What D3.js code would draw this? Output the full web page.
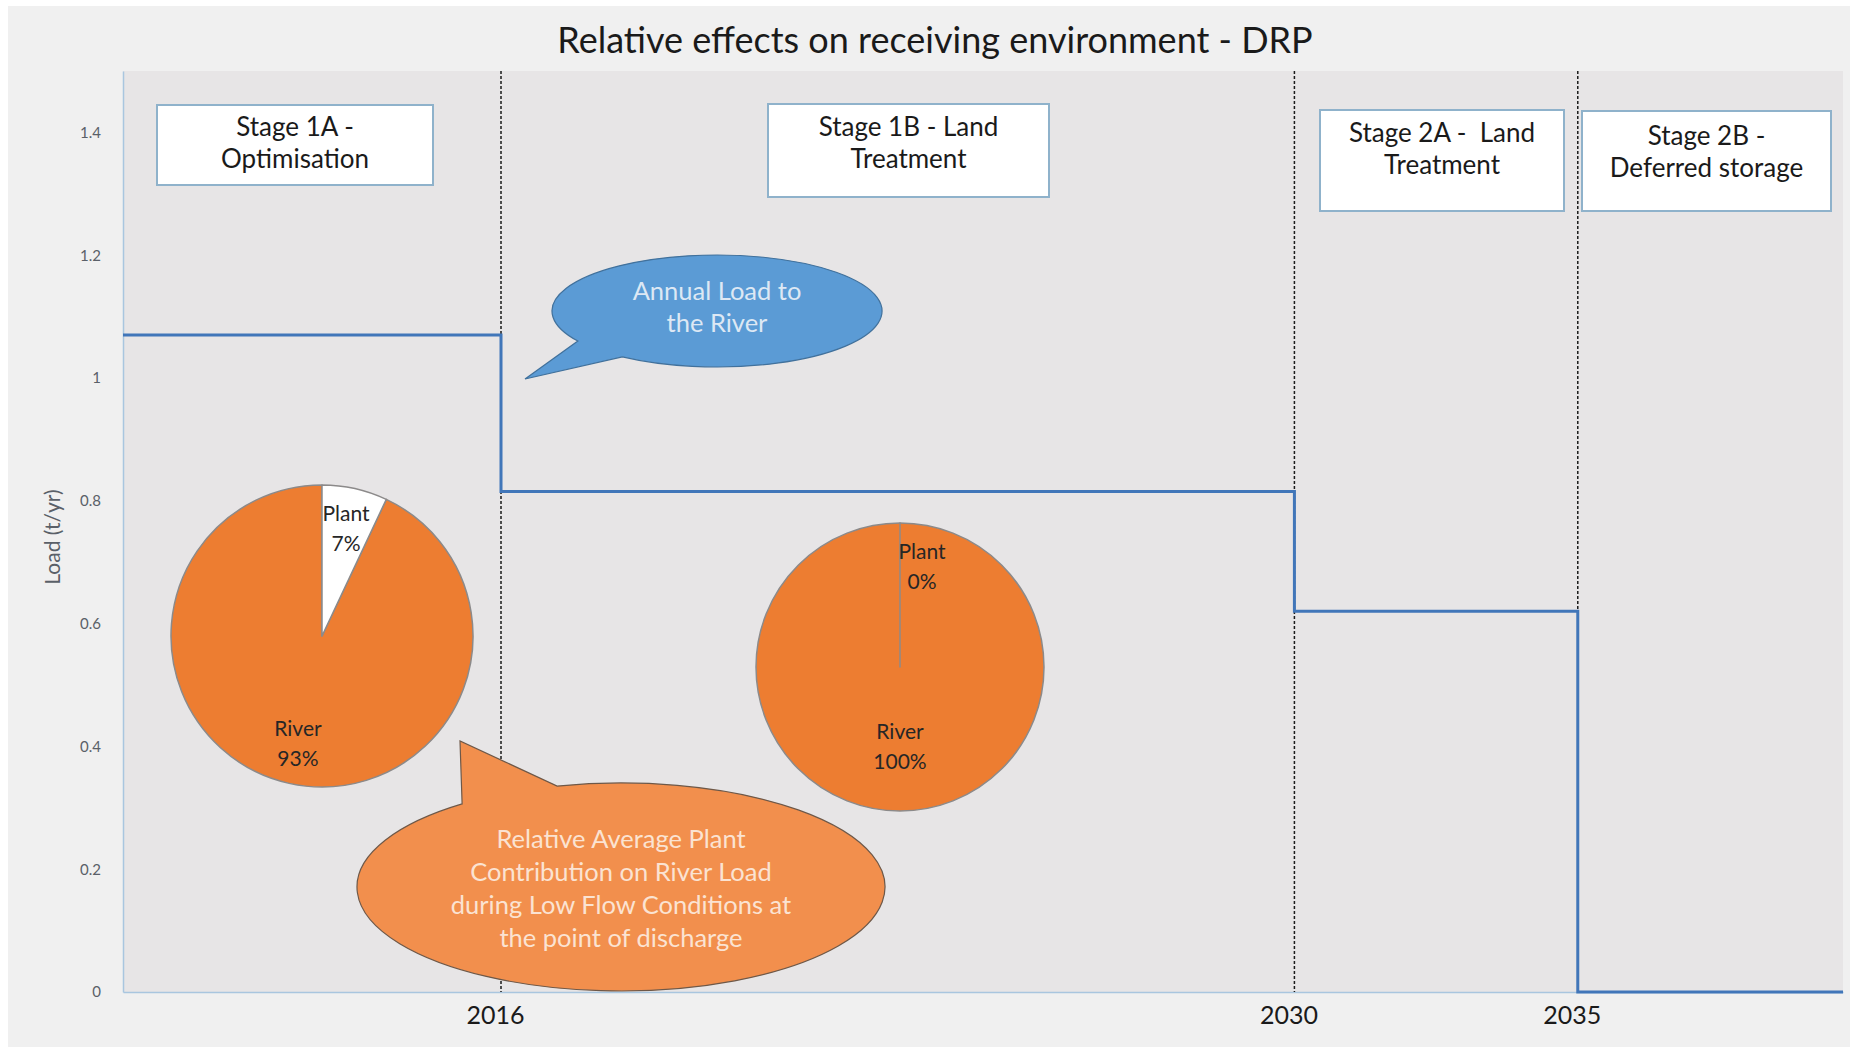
<!DOCTYPE html>
<html>
<head>
<meta charset="utf-8">
<script src="https://cdn.jsdelivr.net/npm/d3@7"></script>
<style>
  html, body { margin: 0; padding: 0; background: #ffffff; }
  svg { display: block; }
  text { font-family: Lato, "Open Sans", sans-serif; }
</style>
</head>
<body>
<svg id="chart" width="1850" height="1047"></svg>
<script>
// ---- data ----
const chartTitle = "Relative effects on receiving environment - DRP";
const yAxisTitle = "Load (t/yr)";
const yTicks = [0, 0.2, 0.4, 0.6, 0.8, 1, 1.2, 1.4];
const stageYears = [2016, 2030, 2035];
const stageTitles = [
  ["Stage 1A -", "Optimisation"],
  ["Stage 1B - Land", "Treatment"],
  ["Stage 2A -  Land", "Treatment"],
  ["Stage 2B -", "Deferred storage"]
];
// annual DRP load to the river, stepping down at each stage change
const loadYears = [2009.33, 2016, 2030, 2035, 2039.68];
const loadValues = [1.07, 0.815, 0.62, 0, 0];
// relative plant contribution during low flow
const sliceNames = ["Plant", "River"];
const shareStage1A = [7, 93];
const shareStage1B = [0, 100];
const bubbleLoadText = ["Annual Load to", "the River"];
const bubbleShareText = ["Relative Average Plant", "Contribution on River Load",
                         "during Low Flow Conditions at", "the point of discharge"];

// ---- layout ----
const W = 1850, H = 1047;
const plot = { left: 123, right: 1843, top: 71, bottom: 992 };
const svg = d3.select("#chart");

const x = d3.scaleLinear().domain([loadYears[0], loadYears[loadYears.length - 1]])
  .range([plot.left, plot.right]);
const y = d3.scaleLinear().domain([0, 1.5]).range([plot.bottom, plot.top]);

// background panels
svg.append("rect").attr("x", 8).attr("y", 6).attr("width", W - 8).attr("height", H - 6)
  .attr("fill", "#f0f0f0");
svg.append("rect").attr("x", plot.left).attr("y", plot.top)
  .attr("width", plot.right - plot.left).attr("height", plot.bottom - plot.top)
  .attr("fill", "#e7e5e6");

// title
svg.append("text").attr("x", 935).attr("y", 53).attr("text-anchor", "middle")
  .attr("font-size", 36).attr("fill", "#1a1a1a").text(chartTitle);

// y axis
const yAxis = svg.append("g").attr("transform", `translate(${plot.left},0)`)
  .call(d3.axisLeft(y).tickValues(yTicks).tickFormat(d3.format("~g")).tickSize(0).tickPadding(22));
yAxis.select(".domain").attr("stroke", "#a9c6df").attr("stroke-width", 1.5);
yAxis.selectAll("text").attr("font-size", 15).attr("fill", "#5a6068")
  .attr("font-family", "Lato, sans-serif");

svg.append("text").attr("transform", "translate(55,537) rotate(-90)")
  .attr("text-anchor", "middle").attr("dominant-baseline", "middle")
  .attr("font-size", 21).attr("fill", "#5a6068").text(yAxisTitle);

// x axis: only the stage change years are labelled
const xAxis = svg.append("g").attr("transform", `translate(0,${plot.bottom})`)
  .call(d3.axisBottom(x).tickValues(stageYears).tickFormat(d3.format("d")).tickSize(0).tickPadding(14));
xAxis.select(".domain").attr("stroke", "#a9c6df").attr("stroke-width", 1.5);
xAxis.selectAll("text").attr("font-size", 25).attr("fill", "#1a1a1a")
  .attr("font-family", "Lato, sans-serif").attr("dx", -6);

// stage boundaries
svg.append("g").selectAll("line").data(stageYears).join("line")
  .attr("x1", d => x(d)).attr("x2", d => x(d))
  .attr("y1", plot.top).attr("y2", plot.bottom)
  .attr("stroke", "#1a1a1a").attr("stroke-width", 1.5).attr("stroke-dasharray", "3,2");

// annual load step line
const loadPoints = loadYears.map((yr, i) => [yr, loadValues[i]]);
svg.append("path").datum(loadPoints)
  .attr("d", d3.line().x(d => x(d[0])).y(d => y(d[1])).curve(d3.curveStepAfter))
  .attr("fill", "none").attr("stroke", "#4176b9").attr("stroke-width", 3);

// contribution pies
const pieColors = d3.scaleOrdinal().domain(sliceNames).range(["#ffffff", "#ed7d31"]);
const pieLayout = d3.pie().sort(null);
const pies = [
  { values: shareStage1A, cx: 322, cy: 636, r: 151, labelR: [0.73, 0.73], labelDx: [0, 0] },
  { values: shareStage1B, cx: 900, cy: 667, r: 144, labelR: [0.70, 0.55], labelDx: [22, 0] }
];
pies.forEach(p => {
  const g = svg.append("g").attr("transform", `translate(${p.cx},${p.cy})`);
  const arcs = pieLayout(p.values);
  const arc = d3.arc().innerRadius(0).outerRadius(p.r);
  // draw the larger slice first so a zero slice's edge remains visible
  const order = arcs.slice().sort((a, b) => b.value - a.value);
  g.selectAll("path").data(order).join("path")
    .attr("d", arc)
    .attr("fill", d => pieColors(sliceNames[d.index]))
    .attr("stroke", "#8c8a8a").attr("stroke-width", 1.5).attr("stroke-linejoin", "round");
  arcs.forEach((a, i) => {
    const mid = (a.startAngle + a.endAngle) / 2;
    const rr = p.r * p.labelR[i];
    const lx = rr * Math.sin(mid) + p.labelDx[i];
    const ly = -rr * Math.cos(mid);
    const t = g.append("text").attr("text-anchor", "middle")
      .attr("font-size", 21).attr("fill", "#262626");
    t.append("tspan").attr("x", lx).attr("y", ly - 15).attr("dy", "0.35em").text(sliceNames[i]);
    t.append("tspan").attr("x", lx).attr("y", ly + 15).attr("dy", "0.35em").text(p.values[i] + "%");
  });
});

// speech bubbles: ellipse with a pointed tail
function bubblePath(b) {
  const pt = t => [b.cx + b.rx * Math.cos(t), b.cy + b.ry * Math.sin(t)];
  const t1 = Math.min(b.t0, b.t1) * Math.PI / 180, t2 = Math.max(b.t0, b.t1) * Math.PI / 180;
  const A = pt(t1), B = pt(t2);
  return `M${A[0]},${A[1]} L${b.tip[0]},${b.tip[1]} L${B[0]},${B[1]} ` +
         `A${b.rx},${b.ry} 0 1 1 ${A[0]},${A[1]} Z`;
}
const bubbles = [
  { cx: 717, cy: 311, rx: 165, ry: 56, t0: 125, t1: 147.5, tip: [525, 379],
    fill: "#5b9bd5", stroke: "#41719c", textFill: "#dde8f4", lines: bubbleLoadText, ty: 291, lh: 32 },
  { cx: 621, cy: 887, rx: 264, ry: 104, t0: -127, t1: -104, tip: [460, 741],
    fill: "#f28f4d", stroke: "#6e5848", textFill: "#fbe3d2", lines: bubbleShareText, ty: 839, lh: 33 }
];
bubbles.forEach(b => {
  svg.append("path").attr("d", bubblePath(b))
    .attr("fill", b.fill).attr("stroke", b.stroke).attr("stroke-width", 1.2);
  const t = svg.append("text").attr("text-anchor", "middle").attr("font-size", 25.5)
    .attr("fill", b.textFill);
  b.lines.forEach((s, i) => {
    t.append("tspan").attr("x", b.cx).attr("y", b.ty + i * b.lh).attr("dy", "0.35em").text(s);
  });
});

// stage title boxes
const boxes = [
  { x: 157, y: 105, w: 276, h: 80, ty: 127 },
  { x: 768, y: 104, w: 281, h: 93, ty: 127 },
  { x: 1320, y: 110, w: 244, h: 101, ty: 133 },
  { x: 1582, y: 111, w: 249, h: 100, ty: 136 }
];
boxes.forEach((b, i) => {
  svg.append("rect").attr("x", b.x).attr("y", b.y).attr("width", b.w).attr("height", b.h)
    .attr("fill", "#ffffff").attr("stroke", "#8fb2cb").attr("stroke-width", 2);
  const t = svg.append("text").attr("text-anchor", "middle").attr("font-size", 26)
    .attr("fill", "#1a1a1a");
  stageTitles[i].forEach((s, j) => {
    t.append("tspan").attr("x", b.x + b.w / 2).attr("y", b.ty + j * 32).attr("dy", "0.35em")
      .attr("xml:space", "preserve").text(s);
  });
});
</script>
</body>
</html>
